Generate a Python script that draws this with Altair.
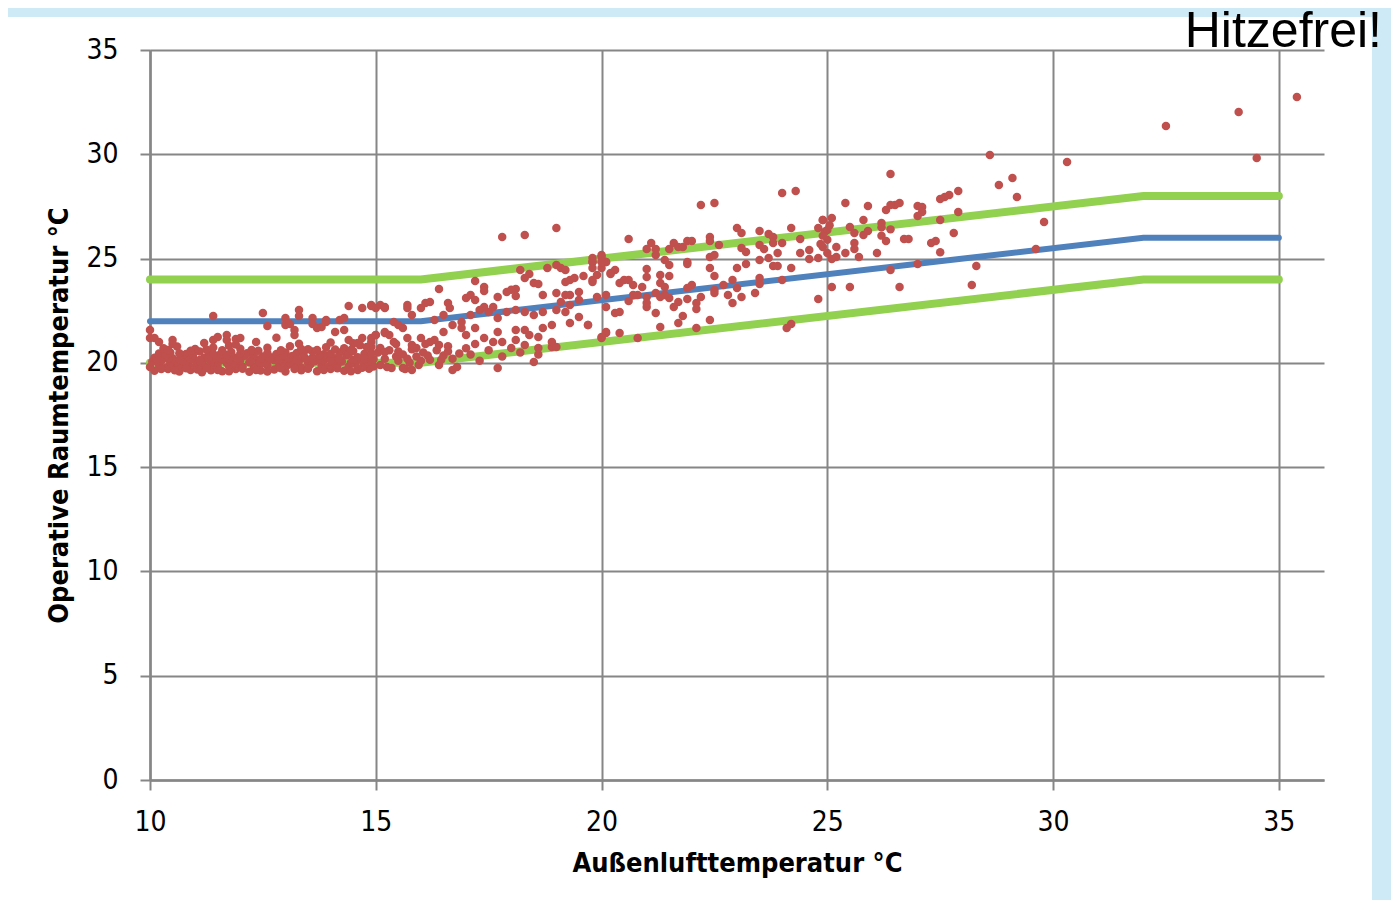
import altair as alt
import pandas as pd

# ---------------- data ----------------
# comfort band breakpoints
line_x = [10, 16, 32, 35]
comfort_mid = [22, 22, 26, 26]
comfort_upper = [24, 24, 28, 28]
comfort_lower = [20, 20, 24, 24]

x_ticks = [10, 15, 20, 25, 30, 35]
y_ticks = [0, 5, 10, 15, 20, 25, 30, 35]

# measured points [outdoor temp, operative room temp]
blob_pts = [
    [10.1, 19.62], [10.4, 19.7], [10.65, 19.58], [10.9, 19.66], [11.15, 19.55], [11.35, 19.64],
    [11.6, 19.6], [11.9, 19.7], [12.2, 19.57], [12.45, 19.63], [12.75, 19.68], [13.0, 19.59],
    [13.35, 19.65], [13.7, 19.6], [14.0, 19.7], [14.3, 19.62], [14.6, 19.66], [14.85, 19.72],
    [10.0, 19.8], [10.2, 19.9], [10.35, 19.78], [10.55, 19.88], [10.7, 19.82], [10.85, 19.95],
    [11.0, 19.8], [11.2, 19.86], [11.4, 19.92], [11.5, 19.79], [11.75, 19.85], [11.9, 19.9],
    [12.05, 19.83], [12.3, 19.8], [12.45, 19.94], [12.6, 19.87], [12.85, 19.81], [13.05, 19.9],
    [13.2, 19.84], [13.35, 19.78], [13.55, 19.92], [13.8, 19.86], [13.95, 19.8], [14.15, 19.9],
    [14.4, 19.83], [14.55, 19.95], [14.8, 19.88], [14.95, 19.82],
    [10.05, 20.05], [10.25, 20.1], [10.45, 19.98], [10.6, 20.08], [10.8, 20.02], [11.0, 20.12],
    [11.15, 20.0], [11.35, 20.06], [11.55, 20.1], [11.7, 19.99], [11.85, 20.04], [12.0, 20.14],
    [12.2, 20.03], [12.4, 20.09], [12.55, 20.0], [12.75, 20.12], [12.95, 20.06], [13.1, 20.02],
    [13.3, 20.1], [13.5, 20.0], [13.65, 20.08], [13.85, 20.13], [14.05, 20.04], [14.25, 20.07],
    [14.45, 20.0], [14.7, 20.11], [14.9, 20.05],
    [10.1, 20.25], [10.3, 20.3], [10.5, 20.22], [10.75, 20.35], [10.95, 20.28], [11.2, 20.24],
    [11.45, 20.32], [11.6, 20.2], [11.85, 20.27], [12.1, 20.34], [12.3, 20.23], [12.5, 20.3],
    [12.7, 20.26], [12.9, 20.21], [13.15, 20.33], [13.4, 20.28], [13.6, 20.24], [13.9, 20.3],
    [14.1, 20.22], [14.35, 20.36], [14.6, 20.27], [14.85, 20.31],
    [10.2, 20.45], [10.45, 20.5], [10.8, 20.42], [11.1, 20.55], [11.3, 20.48], [11.55, 20.4],
    [11.8, 20.52], [12.15, 20.46], [12.4, 20.58], [12.8, 20.43], [13.0, 20.5], [13.25, 20.47],
    [13.6, 20.55], [13.85, 20.41], [14.2, 20.5], [14.5, 20.57], [14.75, 20.44],
    [10.3, 20.7], [10.6, 20.78], [11.0, 20.66], [11.4, 20.74], [11.75, 20.82], [12.0, 20.68],
    [12.6, 20.72], [13.1, 20.8], [13.5, 20.65], [13.9, 20.75], [14.3, 20.7], [14.65, 20.85],
    [10.5, 20.9], [11.2, 20.95], [11.9, 20.88], [12.35, 21.0], [13.3, 20.92], [14.0, 20.98],
    [14.5, 20.94],
    [10.25, 19.7], [10.55, 19.64], [10.8, 19.74], [11.05, 19.68], [11.25, 19.75], [11.5, 19.66],
    [11.75, 19.6], [12.05, 19.72], [12.35, 19.66], [12.6, 19.58], [12.9, 19.74], [13.2, 19.7],
    [13.5, 19.72], [13.85, 19.66], [14.15, 19.74], [14.45, 19.6], [14.7, 19.76],
    [10.15, 20.16], [10.4, 20.2], [10.65, 20.16], [10.9, 20.18], [11.1, 20.14], [11.3, 20.18],
    [11.5, 20.22], [11.75, 20.16], [11.95, 20.22], [12.25, 20.15], [12.45, 20.2], [12.65, 20.18],
    [12.85, 20.15], [13.05, 20.2], [13.25, 20.17], [13.45, 20.2], [13.75, 20.16], [14.0, 20.14],
    [14.2, 20.18], [14.5, 20.15], [14.75, 20.2], [14.95, 20.17],
    [10.35, 20.4], [10.65, 20.46], [10.95, 20.38], [11.4, 20.42], [11.7, 20.38], [12.0, 20.44],
    [12.3, 20.4], [12.6, 20.46], [12.95, 20.38], [13.4, 20.42], [13.75, 20.36], [14.0, 20.44],
    [14.4, 20.42], [14.9, 20.46],
    [10.4, 20.62], [10.9, 20.58], [11.25, 20.64], [11.6, 20.6], [12.25, 20.62], [12.9, 20.6],
    [13.35, 20.66], [13.7, 20.62], [14.1, 20.64], [14.45, 20.62],
]

cool_pts = [
    [10.0, 21.58], [10.0, 21.19], [10.1, 21.19], [10.5, 21.1], [11.4, 22.25], [11.4, 21.1],
    [11.5, 21.24], [11.7, 21.34], [11.7, 21.1], [11.9, 21.14], [12.0, 21.19], [12.5, 22.39],
    [12.6, 21.77], [13.0, 22.15], [13.0, 21.82], [13.1, 21.86], [13.2, 21.58], [13.2, 21.34],
    [13.3, 22.53], [13.3, 22.25], [13.6, 22.15], [13.6, 21.86], [13.7, 21.67], [13.8, 21.72],
    [13.9, 21.96], [13.9, 22.05], [14.2, 22.05], [14.3, 22.15], [14.1, 21.48], [14.3, 21.58],
    [14.4, 22.73], [14.7, 22.63], [14.9, 22.73], [15.0, 22.63], [15.2, 22.63], [14.4, 21.1],
    [14.7, 21.19], [14.9, 21.19], [15.0, 21.34], [15.2, 21.43], [14.9, 20.76], [14.8, 20.76],
    [14.6, 20.95], [12.8, 21.2], [10.2, 21.0],
]

transition_pts = [
    [15.1, 19.9], [15.2, 20.2], [15.35, 19.75], [15.5, 20.1], [15.6, 20.4], [15.75, 20.0],
    [15.9, 20.3], [16.05, 20.5], [16.2, 20.15], [16.35, 20.6], [16.5, 20.35], [15.3, 20.6],
    [15.45, 20.9], [15.8, 20.65], [16.1, 20.9], [16.3, 21.1], [16.6, 20.8], [15.05, 20.5],
    [15.65, 19.7], [16.4, 19.9], [16.7, 20.2], [17.1, 20.4], [17.3, 20.1], [17.5, 20.6],
    [17.8, 20.3], [18.2, 20.5], [18.6, 20.4], [15.6, 19.75], [15.8, 19.66], [16.7, 19.66],
    [16.8, 19.8], [17.7, 19.75], [18.5, 20.04], [18.9, 20.76],
    [15.25, 19.8], [15.45, 20.3], [15.7, 20.2], [15.95, 19.9], [16.15, 20.35], [16.45, 20.15],
    [16.6, 20.55], [16.85, 20.45], [17.0, 20.7], [17.2, 20.9], [15.5, 20.55], [16.0, 20.1],
    [16.64, 22.63], [16.6, 22.87], [16.5, 22.29], [16.3, 22.05], [16.2, 22.92], [16.1, 22.87],
    [16.0, 22.63], [15.8, 22.29], [15.7, 22.77], [15.7, 22.63], [15.4, 21.96], [15.5, 21.82],
    [15.6, 21.67], [15.3, 21.34], [15.2, 21.48], [15.0, 21.34], [14.9, 21.0], [15.1, 20.71],
    [15.2, 20.52], [15.4, 21.0], [15.7, 21.19], [15.8, 20.86], [15.9, 20.71], [16.0, 21.19],
    [16.2, 21.0], [16.4, 20.86], [16.5, 21.48], [16.7, 21.82], [16.9, 21.67], [17.0, 21.34],
    [17.2, 21.67], [17.4, 21.19], [17.6, 21.0], [17.7, 21.48], [17.8, 21.0], [18.0, 20.71],
    [18.1, 21.1], [18.3, 21.58], [18.4, 21.34], [18.6, 21.24], [18.7, 21.67], [18.9, 21.82],
    [18.1, 21.58], [18.3, 20.86], [18.6, 20.71], [18.9, 21.0], [19.0, 20.76], [19.3, 21.91],
    [19.5, 22.2], [19.7, 21.82], [20.0, 21.19], [20.1, 21.48], [14.9, 22.77], [15.1, 22.77],
    [15.2, 22.68],
]

mid_pts = [
    [17.8, 26.03], [18.3, 26.13], [19.0, 26.47], [16.4, 23.54], [17.2, 23.92], [17.4, 23.64],
    [17.4, 23.45], [17.0, 23.11], [17.1, 23.25], [17.2, 23.01], [17.7, 23.16], [17.9, 23.4],
    [18.1, 23.54], [18.1, 23.2], [18.0, 23.5], [18.2, 24.45], [18.3, 24.07], [18.4, 24.26],
    [18.5, 23.83], [18.6, 23.78], [18.8, 24.55], [19.0, 24.69], [19.1, 24.55], [19.2, 24.45],
    [19.2, 23.88], [19.3, 23.97], [19.4, 24.07], [19.6, 24.17], [19.8, 24.84], [19.8, 25.03],
    [20.0, 25.08], [20.1, 24.84], [20.0, 24.55], [19.9, 24.21], [19.8, 23.88], [20.2, 24.31],
    [18.7, 23.25], [19.0, 23.35], [19.1, 22.92], [19.2, 23.25], [19.3, 23.25], [19.5, 23.4],
    [19.5, 23.01], [19.3, 22.77], [19.2, 22.44], [19.0, 22.53], [18.7, 22.44], [18.5, 22.29],
    [18.3, 22.44], [18.1, 22.53], [17.9, 22.44], [17.7, 22.15], [17.5, 22.44], [17.6, 22.68],
    [17.4, 22.68], [17.3, 22.53], [17.1, 22.29], [16.9, 21.96],
    [20.6, 25.94], [21.1, 25.75], [21.0, 25.46], [21.2, 25.46], [21.2, 25.17], [21.5, 25.46],
    [21.6, 25.75], [21.7, 25.56], [21.8, 25.56], [21.9, 25.84], [22.0, 25.84], [22.4, 26.03],
    [22.4, 25.84], [22.6, 25.65], [23.0, 26.47], [23.1, 26.23], [23.5, 26.32], [23.7, 26.18],
    [23.8, 26.03], [24.2, 26.47], [24.4, 25.94], [24.8, 26.47], [24.9, 26.85], [25.0, 26.37],
    [23.1, 25.51], [23.2, 25.32], [23.5, 25.65], [23.6, 25.46], [23.8, 25.75], [24.0, 25.75],
    [24.4, 25.27], [24.6, 25.41], [24.8, 25.03], [24.9, 25.56], [22.4, 25.08], [22.5, 25.17],
    [22.4, 24.55], [22.5, 24.17], [23.0, 24.55], [23.2, 24.74], [23.5, 24.93], [23.5, 24.07],
    [23.7, 25.03], [23.8, 24.64], [23.9, 25.27], [23.9, 24.64], [24.2, 24.55], [24.6, 24.98],
    [24.0, 23.97], [23.5, 23.78], [22.9, 23.97], [22.7, 23.73], [22.8, 23.25], [22.9, 22.87],
    [23.1, 23.16], [23.4, 23.35], [23.0, 23.59], [22.5, 23.49], [22.5, 23.35], [22.2, 23.16],
    [22.0, 23.73], [21.9, 23.59], [22.1, 22.87], [22.1, 22.58], [21.9, 23.06], [21.7, 22.92],
    [21.5, 23.11], [21.6, 22.68], [21.4, 23.25], [21.3, 23.16], [21.2, 23.35],
    [21.9, 24.84], [21.9, 24.74], [21.5, 24.69], [21.4, 24.93], [21.5, 24.17], [21.3, 24.21],
    [21.3, 23.83], [21.4, 23.64], [21.0, 24.5], [21.0, 24.12], [20.9, 23.64], [20.7, 23.73],
    [20.6, 23.97], [20.4, 23.83], [20.5, 23.97], [20.3, 24.45], [20.2, 24.26], [20.1, 24.84],
    [20.0, 25.17], [20.0, 24.84], [19.8, 24.84], [19.8, 24.55], [19.8, 23.97],
    [20.7, 23.25], [20.8, 23.25], [21.0, 23.16], [20.6, 22.96], [20.1, 23.25], [20.1, 22.68],
    [19.9, 23.16], [20.3, 22.39], [20.4, 22.44], [21.0, 22.68], [21.0, 22.87], [21.2, 22.39],
    [21.7, 21.91], [21.8, 22.25], [22.1, 21.67], [22.4, 22.05], [21.3, 21.72], [20.4, 21.43],
    [20.1, 21.43], [20.8, 21.19], [20.0, 21.24], [19.7, 21.82], [24.1, 21.67], [24.2, 21.86],
    [24.8, 23.06], [22.2, 27.57], [22.5, 27.67], [24.0, 28.14], [24.3, 28.24],
]

warm_pts = [
    [28.6, 29.97], [28.8, 28.53], [29.1, 28.86], [29.2, 27.95], [29.8, 26.75], [29.62, 25.46],
    [28.3, 24.64], [28.2, 23.73], [27.9, 28.24], [27.9, 27.23], [27.7, 28.05], [27.6, 27.95],
    [27.5, 27.86], [27.5, 26.85], [27.8, 26.23], [27.4, 25.84], [27.3, 25.75], [27.5, 25.3],
    [27.0, 27.52], [27.1, 27.47], [27.1, 27.23], [27.0, 27.04], [26.6, 27.67], [26.5, 27.57],
    [26.4, 27.57], [26.3, 27.33], [26.4, 29.05], [25.9, 27.52], [25.4, 27.67], [25.1, 26.95],
    [24.9, 26.85], [25.8, 26.85], [25.5, 26.51], [25.6, 26.23], [25.8, 26.13], [25.9, 26.32],
    [26.2, 26.7], [26.2, 26.5], [26.4, 26.4], [26.2, 26.1], [26.3, 25.84], [26.7, 25.94],
    [26.8, 25.94], [25.6, 25.75], [25.6, 25.46], [25.2, 25.56], [25.4, 25.27], [25.0, 25.27],
    [25.2, 25.08], [25.1, 24.98], [25.7, 25.08], [26.1, 25.27], [27.0, 24.74], [26.4, 24.45],
    [26.6, 23.64], [25.5, 23.64], [25.1, 23.64], [24.95, 26.3], [25.0, 25.9], [24.9, 26.1],
    [25.05, 26.6], [24.85, 25.7],
]

hot_pts = [
    [30.31, 29.63], [32.5, 31.36], [34.11, 32.03], [34.51, 29.82], [35.4, 32.75],
]

# ---------------- frames ----------------
all_pts = blob_pts + cool_pts + transition_pts + mid_pts + warm_pts + hot_pts
df_pts = pd.DataFrame(all_pts, columns=["x", "y"])

df_lines = pd.DataFrame({
    "x": line_x * 3,
    "y": comfort_upper + comfort_lower + comfort_mid,
    "series": ["upper"] * 4 + ["lower"] * 4 + ["mid"] * 4,
})

W, H = 1174, 730
LABEL_FONT = "Liberation Sans Narrow, DejaVu Sans Condensed, sans-serif"
GRID = "#868686"

xscale = alt.Scale(domain=[10, 36], nice=False, zero=False)
yscale = alt.Scale(domain=[0, 35], nice=False)

x_axis = alt.Axis(values=x_ticks, title="Außenlufttemperatur °C", labelPadding=18,
                  titlePadding=14, labelFlush=False)
y_axis = alt.Axis(values=y_ticks, title="Operative Raumtemperatur °C", labelPadding=22,
                  titlePadding=12, labelFlush=False)


def xenc():
    return alt.X("x:Q", scale=xscale, axis=x_axis)


def yenc():
    return alt.Y("y:Q", scale=yscale, axis=y_axis)


dummy = pd.DataFrame({"a": [0]})

top_strip = alt.Chart(dummy).mark_rect(color="#CDEAF6").encode(
    x=alt.value(-150), x2=alt.value(1260), y=alt.value(-60), y2=alt.value(-33)
)
right_strip = alt.Chart(dummy).mark_rect(color="#CDEAF6").encode(
    x=alt.value(1222), x2=alt.value(1260), y=alt.value(-60), y2=alt.value(900)
)

upper = alt.Chart(df_lines).transform_filter(alt.datum.series == "upper").mark_line(
    color="#92D050", strokeWidth=8, strokeCap="round"
).encode(x=xenc(), y=yenc())
lower = alt.Chart(df_lines).transform_filter(alt.datum.series == "lower").mark_line(
    color="#92D050", strokeWidth=8, strokeCap="round"
).encode(x=xenc(), y=yenc())
mid = alt.Chart(df_lines).transform_filter(alt.datum.series == "mid").mark_line(
    color="#4F81BD", strokeWidth=6, strokeCap="round"
).encode(x=xenc(), y=yenc())

points = alt.Chart(df_pts).mark_circle(
    size=72, color="#C0504D", opacity=1
).encode(x=xenc(), y=yenc())

title = alt.Chart(dummy).mark_text(
    text="Hitzefrei!", font="Liberation Sans", fontSize=50, align="right",
    baseline="alphabetic", color="black"
).encode(x=alt.value(1232), y=alt.value(-3))

chart = alt.layer(top_strip, right_strip, upper, lower, mid, points, title).properties(
    width=W, height=H,
    autosize=alt.AutoSizeParams(type="none"),
    padding={"left": 142, "top": 42, "right": 67, "bottom": 120},
    background="white",
).configure_view(stroke=None).configure_axis(
    gridColor=GRID, gridWidth=2, gridOpacity=1,
    tickColor=GRID, tickWidth=2, tickSize=10,
    domainColor=GRID, domainWidth=2.5,
    labelFont=LABEL_FONT, labelFontSize=28, labelColor="black",
    titleFont=LABEL_FONT, titleFontSize=27, titleFontWeight="bold", titleColor="black",
)

chart.save("out.html", embed_options={"renderer": "svg", "actions": False})
